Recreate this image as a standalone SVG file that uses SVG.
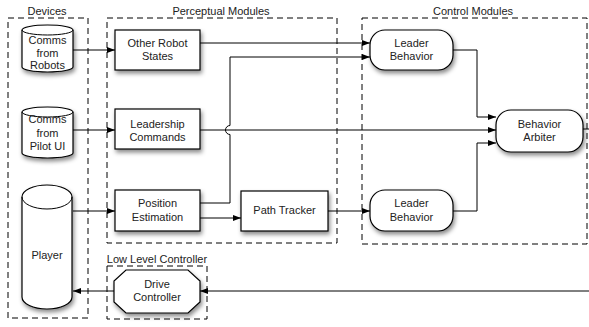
<svg xmlns="http://www.w3.org/2000/svg" width="589" height="327" viewBox="0 0 589 327">
  <defs>
    <filter id="shadow" x="-20%" y="-20%" width="150%" height="160%">
      <feDropShadow dx="1.5" dy="3" stdDeviation="2" flood-color="#000" flood-opacity="0.45"/>
    </filter>
    <marker id="arrow" markerUnits="userSpaceOnUse" markerWidth="9" markerHeight="7" refX="8" refY="3" orient="auto">
      <path d="M0,0 L8,3 L0,6 Z" fill="#000"/>
    </marker>
  </defs>
  <style>
    .group { fill: none; stroke: #000; stroke-width: 1; stroke-dasharray: 6 4; }
    .node { fill: #fff; stroke: #000; stroke-width: 1.2; filter: url(#shadow); }
    .edge { fill: none; stroke: #000; stroke-width: 1; }
    text { font-family: "Liberation Sans", Arial, sans-serif; font-size: 11px; fill: #222; text-anchor: middle; }
  </style>

  <rect width="589" height="327" fill="#fff"/>

  <!-- Grouping boxes -->
  <g id="devices-group">
    <rect class="group" x="8" y="18" width="80" height="300"/>
    <text x="47" y="15">Devices</text>
  </g>
  <g id="perceptual-group">
    <rect class="group" x="107" y="18" width="230" height="225"/>
    <text x="221" y="15">Perceptual Modules</text>
  </g>
  <g id="control-group">
    <rect class="group" x="362" y="18" width="225" height="226"/>
    <text x="473" y="15">Control Modules</text>
  </g>
  <g id="lowlevel-group">
    <rect class="group" x="107" y="266" width="100" height="53"/>
    <text x="157" y="263">Low Level Controller</text>
  </g>

  <!-- Connectors -->
  <g id="connectors">
    <line class="edge" x1="73" y1="50" x2="115" y2="50" marker-end="url(#arrow)"/>
    <line class="edge" x1="73" y1="130" x2="115" y2="130" marker-end="url(#arrow)"/>
    <line class="edge" x1="73" y1="211" x2="115" y2="211" marker-end="url(#arrow)"/>
    <line class="edge" x1="200" y1="43" x2="370" y2="43" marker-end="url(#arrow)"/>
    <path class="edge" d="M200,203 H230 V134.5 A4.5,4.5 0 0 1 230,125.5 V57 H370" marker-end="url(#arrow)"/>
    <line class="edge" x1="200" y1="218" x2="241" y2="218" marker-end="url(#arrow)"/>
    <line class="edge" x1="200" y1="130" x2="496" y2="130" marker-end="url(#arrow)"/>
    <line class="edge" x1="328" y1="211" x2="370" y2="211" marker-end="url(#arrow)"/>
    <path class="edge" d="M453,50 H477 V117 H496" marker-end="url(#arrow)"/>
    <path class="edge" d="M453,211 H477 V143 H496" marker-end="url(#arrow)"/>
    <line class="edge" x1="583" y1="129" x2="589" y2="129"/>
    <line class="edge" x1="589" y1="291" x2="200" y2="291" marker-end="url(#arrow)"/>
    <line class="edge" x1="114" y1="291" x2="73" y2="291" marker-end="url(#arrow)"/>
  </g>

  <!-- Device nodes -->
  <g id="comms-robots">
    <path class="node" d="M22,30 A25.5,5 0 0 1 73,30 V67 A25.5,5 0 0 1 22,67 Z"/>
    <path class="edge" d="M22,30 A25.5,5 0 0 0 73,30"/>
    <text x="47.5" y="44">Comms</text>
    <text x="47.5" y="57">from</text>
    <text x="47.5" y="69">Robots</text>
  </g>
  <g id="comms-pilot">
    <path class="node" d="M22,112 A25.5,5 0 0 1 73,112 V153 A25.5,5 0 0 1 22,153 Z"/>
    <path class="edge" d="M22,112 A25.5,5 0 0 0 73,112"/>
    <text x="47.5" y="123">Comms</text>
    <text x="47.5" y="137">from</text>
    <text x="47.5" y="150">Pilot UI</text>
  </g>
  <g id="player">
    <path class="node" d="M22,197 A25,12 0 0 1 72,197 V297 A25,12 0 0 1 22,297 Z"/>
    <path class="edge" d="M22,197 A25,12 0 0 0 72,197"/>
    <text x="47" y="259">Player</text>
  </g>

  <!-- Perceptual nodes -->
  <g id="other-robot-states">
    <rect class="node" x="115" y="30" width="85" height="40"/>
    <text x="157.5" y="47">Other Robot</text>
    <text x="157.5" y="60">States</text>
  </g>
  <g id="leadership-commands">
    <rect class="node" x="115" y="109" width="85" height="40"/>
    <text x="157.5" y="128">Leadership</text>
    <text x="157.5" y="141">Commands</text>
  </g>
  <g id="position-estimation">
    <rect class="node" x="115" y="190" width="85" height="41"/>
    <text x="157.5" y="207">Position</text>
    <text x="157.5" y="221">Estimation</text>
  </g>
  <g id="path-tracker">
    <rect class="node" x="241" y="191" width="87" height="40"/>
    <text x="284.5" y="214">Path Tracker</text>
  </g>

  <!-- Control nodes -->
  <g id="leader-behavior-top">
    <rect class="node" x="370" y="30" width="83" height="40" rx="15" ry="15"/>
    <text x="411.5" y="47">Leader</text>
    <text x="411.5" y="60">Behavior</text>
  </g>
  <g id="leader-behavior-bottom">
    <rect class="node" x="370" y="190" width="83" height="41" rx="15" ry="15"/>
    <text x="411.5" y="207">Leader</text>
    <text x="411.5" y="221">Behavior</text>
  </g>
  <g id="behavior-arbiter">
    <rect class="node" x="496" y="110" width="87" height="42" rx="15" ry="15"/>
    <text x="539.5" y="128">Behavior</text>
    <text x="539.5" y="141">Arbiter</text>
  </g>

  <!-- Low level node -->
  <g id="drive-controller">
    <polygon class="node" points="126,270 188,270 200,281 200,302 188,313 126,313 114,302 114,281"/>
    <text x="157" y="288">Drive</text>
    <text x="157" y="301">Controller</text>
  </g>
</svg>
